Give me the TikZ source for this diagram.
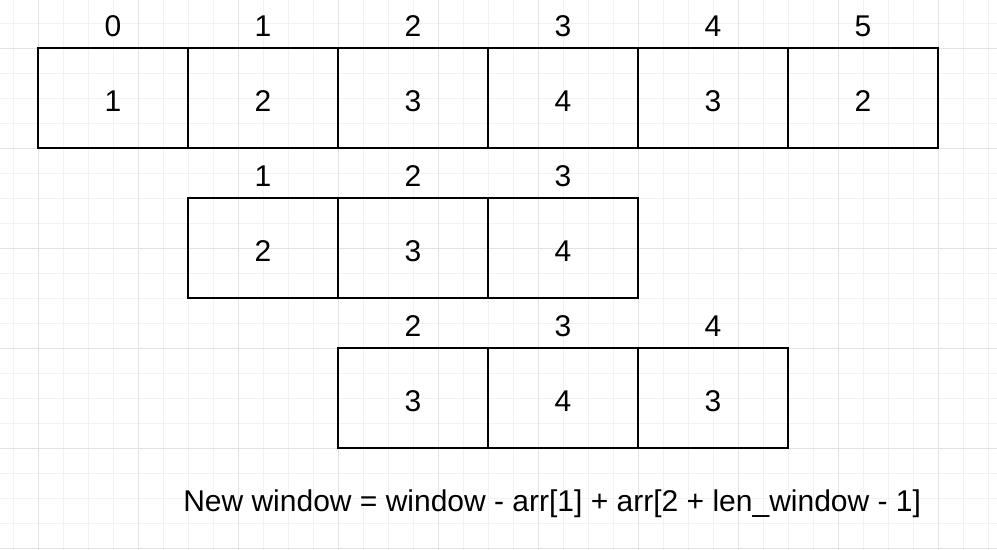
\documentclass[tikz,border=0pt]{standalone}
\usepackage{fontspec}
\setmainfont{Liberation Sans}
\definecolor{gridminor}{HTML}{F2F2F2}
\definecolor{gridmajor}{HTML}{E3E3E3}
\begin{document}
\begin{tikzpicture}[
		x=0.75pt,
		y=-0.75pt,
		cell/.style={draw, line width=1.5pt, minimum width=112.5pt, minimum height=75pt, inner sep=0pt, text height=19.9pt, font=\fontsize{22.5}{27}\selectfont},
		idx/.style={inner sep=0pt, font=\fontsize{22.5}{27}\selectfont},
	]

		\useasboundingbox [fill=white] (0,0) rectangle (997,550);

		% grid
		\foreach \gx in {13,38,...,988} \draw [gridminor, line width=0.75pt] (\gx,0) -- (\gx,550);
		\foreach \gy in {23,48,...,548} \draw [gridminor, line width=0.75pt] (0,\gy) -- (997,\gy);
		\foreach \gx in {38,138,...,938} \draw [gridmajor, line width=0.75pt] (\gx,0) -- (\gx,550);
		\foreach \gy in {48,148,...,548} \draw [gridmajor, line width=0.75pt] (0,\gy) -- (997,\gy);

		% array
		\node [cell] (a0) at (113, 98) {1};
		\node [cell] (a1) at (263, 98) {2};
		\node [cell] (a2) at (413, 98) {3};
		\node [cell] (a3) at (563, 98) {4};
		\node [cell] (a4) at (713, 98) {3};
		\node [cell] (a5) at (863, 98) {2};
		\node [idx] (ia0) at (113, 26) {0};
		\node [idx] (ia1) at (263, 26) {1};
		\node [idx] (ia2) at (413, 26) {2};
		\node [idx] (ia3) at (563, 26) {3};
		\node [idx] (ia4) at (713, 26) {4};
		\node [idx] (ia5) at (863, 26) {5};

		% window
		\node [cell] (b1) at (263, 248) {2};
		\node [cell] (b2) at (413, 248) {3};
		\node [cell] (b3) at (563, 248) {4};
		\node [idx] (ib1) at (263, 176) {1};
		\node [idx] (ib2) at (413, 176) {2};
		\node [idx] (ib3) at (563, 176) {3};

		% new window
		\node [cell] (c2) at (413, 398) {3};
		\node [cell] (c3) at (563, 398) {4};
		\node [cell] (c4) at (713, 398) {3};
		\node [idx] (ic2) at (413, 326) {2};
		\node [idx] (ic3) at (563, 326) {3};
		\node [idx] (ic4) at (713, 326) {4};

		% formula
		\node [idx, anchor=base west] (rule) at (183, 511) {New window = window - arr[1] + arr[2 + len\_window - 1]};
	\end{tikzpicture}
\end{document}
